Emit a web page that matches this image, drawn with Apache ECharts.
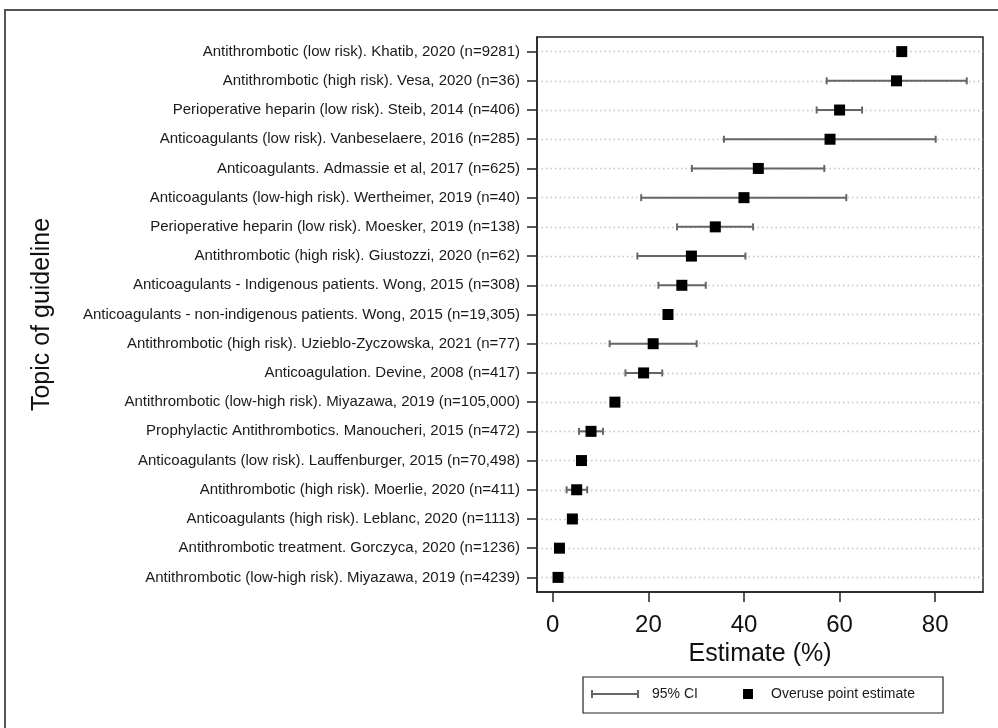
<!DOCTYPE html>
<html>
<head>
<meta charset="utf-8">
<script src="https://cdn.jsdelivr.net/npm/echarts@6/dist/echarts.min.js"></script>
<style>html,body{margin:0;padding:0;background:#fff;}#chart{width:998px;height:728px;}</style>
</head>
<body>
<div id="chart"></div>
<script>
const categories = [
  'Antithrombotic (low risk). Khatib, 2020 (n=9281)',
  'Antithrombotic (high risk). Vesa, 2020 (n=36)',
  'Perioperative heparin (low risk). Steib, 2014 (n=406)',
  'Anticoagulants (low risk). Vanbeselaere, 2016 (n=285)',
  'Anticoagulants. Admassie et al, 2017 (n=625)',
  'Anticoagulants (low-high risk). Wertheimer, 2019 (n=40)',
  'Perioperative heparin (low risk). Moesker, 2019 (n=138)',
  'Antithrombotic (high risk). Giustozzi, 2020 (n=62)',
  'Anticoagulants - Indigenous patients. Wong, 2015 (n=308)',
  'Anticoagulants - non-indigenous patients. Wong, 2015 (n=19,305)',
  'Antithrombotic (high risk). Uzieblo-Zyczowska, 2021 (n=77)',
  'Anticoagulation. Devine, 2008 (n=417)',
  'Antithrombotic (low-high risk). Miyazawa, 2019 (n=105,000)',
  'Prophylactic Antithrombotics. Manoucheri, 2015 (n=472)',
  'Anticoagulants (low risk). Lauffenburger, 2015 (n=70,498)',
  'Antithrombotic (high risk). Moerlie, 2020 (n=411)',
  'Anticoagulants (high risk). Leblanc, 2020 (n=1113)',
  'Antithrombotic treatment. Gorczyca, 2020 (n=1236)',
  'Antithrombotic (low-high risk). Miyazawa, 2019 (n=4239)'
];
const estimates = [73, 71.9, 60, 58, 43, 40, 34, 29, 27, 24.1, 21, 19, 13, 8, 6, 5, 4.1, 1.4, 1.1];
const ciLow  = [null, 57.3, 55.2, 35.8, 29.1, 18.5, 26.0, 17.7, 22.1, null, 11.9, 15.2, null, 5.5, null, 2.9, null, null, null];
const ciHigh = [null, 86.6, 64.7, 80.1, 56.8, 61.4, 41.9, 40.3, 32.0, null, 30.1, 22.9, null, 10.5, null, 7.2, null, null, null];
const xTicks = [0, 20, 40, 60, 80];

const FONT = "'Liberation Sans', Arial, sans-serif";
const ciData = [];
categories.forEach((c, i) => {
  if (ciLow[i] != null && ciHigh[i] != null) ciData.push([ciLow[i], ciHigh[i], c]);
});
const pointData = categories.map((c, i) => [estimates[i], c]);

const chart = echarts.init(document.getElementById('chart'), null, {renderer: 'canvas'});
chart.setOption({
  backgroundColor: '#ffffff',
  animation: false,
  textStyle: {fontFamily: FONT},
  graphic: [
    {type: 'rect', shape: {x: 5, y: 10, width: 1200, height: 900}, style: {fill: 'none', stroke: '#555', lineWidth: 2}, silent: true},
    {type: 'rect', shape: {x: 583, y: 677, width: 360, height: 36}, style: {fill: 'none', stroke: '#222', lineWidth: 1.2}, silent: true}
  ],
  legend: [
    {
      left: 591, top: 687, padding: 0, selectedMode: false,
      itemWidth: 48, itemHeight: 8,
      data: [{name: '95% CI', icon: 'path://M0,0 h2 v3 h44 v-3 h2 v8 h-2 v-3 h-44 v3 h-2 z', itemStyle: {color: '#666'}}],
      textStyle: {fontSize: 14, color: '#1a1a1a', fontFamily: FONT, padding: [0, 0, 0, 8]}
    },
    {
      left: 743, top: 687, padding: 0, selectedMode: false,
      itemWidth: 10, itemHeight: 10,
      data: [{name: 'Overuse point estimate', icon: 'rect', itemStyle: {color: '#000', opacity: 1}}],
      textStyle: {fontSize: 14, color: '#1a1a1a', fontFamily: FONT, padding: [0, 0, 0, 13]}
    }
  ],
  grid: {left: 537, right: 15, top: 37, bottom: 136, show: true, borderColor: '#222', borderWidth: 1.5, containLabel: false},
  xAxis: {
    type: 'value', min: -3.3, max: 90,
    name: 'Estimate (%)', nameLocation: 'middle', nameGap: 43,
    nameTextStyle: {fontSize: 25, color: '#111', fontFamily: FONT},
    axisLine: {show: true, onZero: false, lineStyle: {color: '#222', width: 1.5}},
    axisTick: {show: true, length: 10, customValues: xTicks, lineStyle: {color: '#222', width: 1.5}},
    axisLabel: {fontSize: 24, color: '#111', margin: 21, customValues: xTicks, fontFamily: FONT},
    splitLine: {show: false}
  },
  yAxis: {
    type: 'category', inverse: true, data: categories,
    name: 'Topic of guideline', nameLocation: 'middle', nameRotate: 90, nameGap: 482,
    nameTextStyle: {fontSize: 25, color: '#111', fontFamily: FONT},
    axisLine: {show: true, onZero: false, lineStyle: {color: '#222', width: 1.5}},
    axisTick: {show: true, alignWithLabel: true, length: 10, lineStyle: {color: '#222', width: 1.5}},
    axisLabel: {fontSize: 15, color: '#1a1a1a', margin: 17, interval: 0, fontFamily: FONT},
    splitLine: {show: true, alignWithLabel: true, interval: 0, lineStyle: {color: '#c4c4c4', type: [1.5, 3], width: 1.3}}
  },
  series: [
    {
      name: '95% CI', type: 'custom', data: ciData,
      encode: {x: [0, 1], y: 2},
      itemStyle: {color: '#666'},
      renderItem: function (params, api) {
        const yi = api.value(2);
        const p1 = api.coord([api.value(0), yi]);
        const p2 = api.coord([api.value(1), yi]);
        const h = 3.5;
        const st = {stroke: '#666', lineWidth: 2};
        return {type: 'group', children: [
          {type: 'line', shape: {x1: p1[0], y1: p1[1], x2: p2[0], y2: p2[1]}, style: st},
          {type: 'line', shape: {x1: p1[0], y1: p1[1] - h, x2: p1[0], y2: p1[1] + h}, style: st},
          {type: 'line', shape: {x1: p2[0], y1: p2[1] - h, x2: p2[0], y2: p2[1] + h}, style: st}
        ]};
      },
      z: 2
    },
    {
      name: 'Overuse point estimate', type: 'scatter', data: pointData,
      symbol: 'rect', symbolSize: 11,
      itemStyle: {color: '#000', opacity: 1},
      z: 3
    }
  ]
});
</script>
</body>
</html>
